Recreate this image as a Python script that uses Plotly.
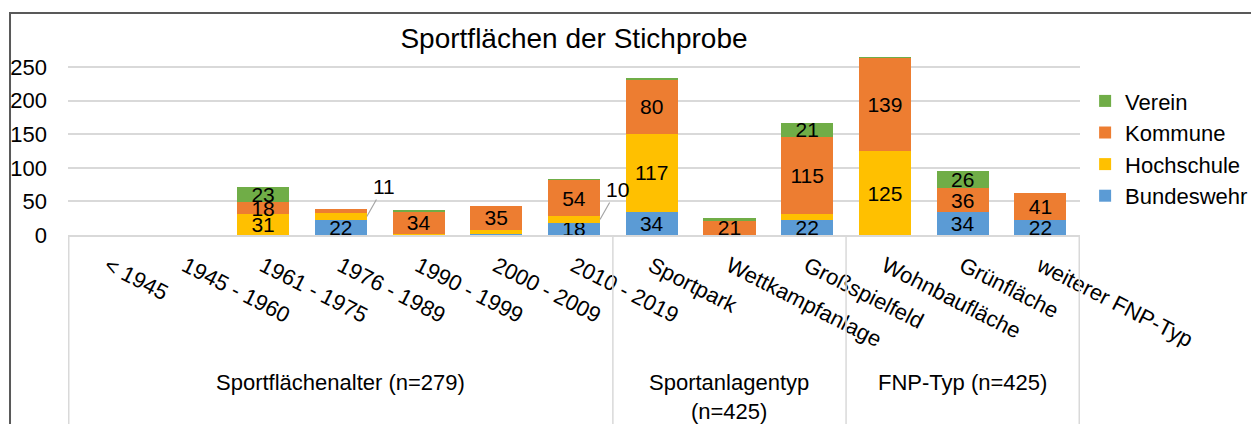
import plotly.graph_objects as go

# Daten ----------------------------------------------------------------------------
kategorien = ['< 1945', '1945 - 1960', '1961 - 1975', '1976 - 1989', '1990 - 1999',
              '2000 - 2009', '2010 - 2019', 'Sportpark', 'Wettkampfanlage',
              'Großspielfeld', 'Wohnbaufläche', 'Grünfläche', 'weiterer FNP-Typ']

bundeswehr = [0, 0, 0, 22, 0, 1, 18, 34, 0, 22, 0, 34, 22]
hochschule = [0, 0, 31, 11, 1, 7, 10, 117, 0, 9, 125, 0, 0]
kommune = [0, 0, 18, 6, 34, 35, 54, 80, 21, 115, 139, 36, 41]
verein = [0, 0, 23, 0, 2, 0, 1, 2, 4, 21, 1, 26, 0]

gruppen = ['Sportflächenalter (n=279)', 'Sportanlagentyp<br>(n=425)', 'FNP-Typ (n=425)']
gruppen_groesse = [7, 3, 3]

y_ticks = [0, 50, 100, 150, 200, 250]

serien = [
    ('Bundeswehr', bundeswehr, '#5B9BD5'),
    ('Hochschule', hochschule, '#FFC000'),
    ('Kommune', kommune, '#ED7D31'),
    ('Verein', verein, '#70AD47'),
]

SCHRIFT = 'Liberation Sans, Arial, sans-serif'

fig = go.Figure()

for name, werte, farbe in serien:
    texte = [str(v) if v >= 15 else '' for v in werte]
    fig.add_trace(go.Bar(
        x=kategorien, y=werte, name=name,
        marker=dict(color=farbe, line=dict(width=0)),
        text=texte, textposition='inside', insidetextanchor='middle',
        constraintext='none',
        textfont=dict(family=SCHRIFT, size=21, color='black'),
        hoverinfo='x+y+name',
    ))

# kleine Werte mit Fuehrungslinie
basis = [0] * len(kategorien)
for name, werte, farbe in serien:
    for i, v in enumerate(werte):
        if 10 <= v < 15:
            fig.add_annotation(
                x=kategorien[i], y=basis[i] + v / 2, xref='x', yref='y',
                text=str(v), showarrow=True, arrowhead=0, arrowwidth=1.2,
                arrowcolor='#A6A6A6', ax=17, ay=-30, xshift=26, standoff=0,
                font=dict(family=SCHRIFT, size=21, color='black'),
            )
    basis = [b + v for b, v in zip(basis, werte)]

# Gruppen-Trennlinien und Gruppenbeschriftung
start = 0
grenzen = [-0.5]
for g, n in zip(gruppen, gruppen_groesse):
    mitte = start + (n - 1) / 2
    fig.add_annotation(
        x=mitte, y=-0.74, xref='x', yref='paper', yanchor='top',
        text=g, showarrow=False,
        font=dict(family=SCHRIFT, size=22, color='black'),
    )
    start += n
    grenzen.append(start - 0.5)

for gx in grenzen:
    fig.add_shape(type='line', xref='x', yref='paper', x0=gx, x1=gx, y0=0, y1=-1.1,
                  line=dict(color='#D9D9D9', width=1.5))

# Rahmen des Diagrammbereichs
fig.add_shape(type='rect', xref='paper', yref='paper',
              x0=-0.0573, x1=1.2, y0=-1.2, y1=1.233,
              line=dict(color='#595959', width=2), fillcolor='rgba(0,0,0,0)')

fig.update_layout(
    barmode='stack',
    bargap=0.33,
    width=1251, height=416,
    margin=dict(l=60, r=179, t=47, b=189),
    paper_bgcolor='white', plot_bgcolor='white',
    font=dict(family=SCHRIFT, size=21, color='black'),
    title=dict(text='Sportflächen der Stichprobe', x=0.5, xref='paper',
               y=0.928, yanchor='middle', font=dict(size=28, color='black')),
    legend=dict(traceorder='reversed', xref='container', yref='container',
                x=0.861, xanchor='left', y=0.662, yanchor='middle',
                font=dict(size=22), itemwidth=30, bgcolor='rgba(0,0,0,0)'),
    xaxis=dict(tickangle=27, showline=True, linecolor='#D9D9D9', linewidth=1.5,
               ticks='', tickfont=dict(size=22), showgrid=False,
               ticklabelstandoff=8, automargin=False),
    yaxis=dict(range=[0, 268], tickvals=y_ticks, showgrid=True, gridcolor='#D9D9D9',
               gridwidth=1.5, zeroline=False, tickfont=dict(size=22),
               ticklabelstandoff=20, automargin=False),
    showlegend=True,
)

fig.write_html('out.html')
